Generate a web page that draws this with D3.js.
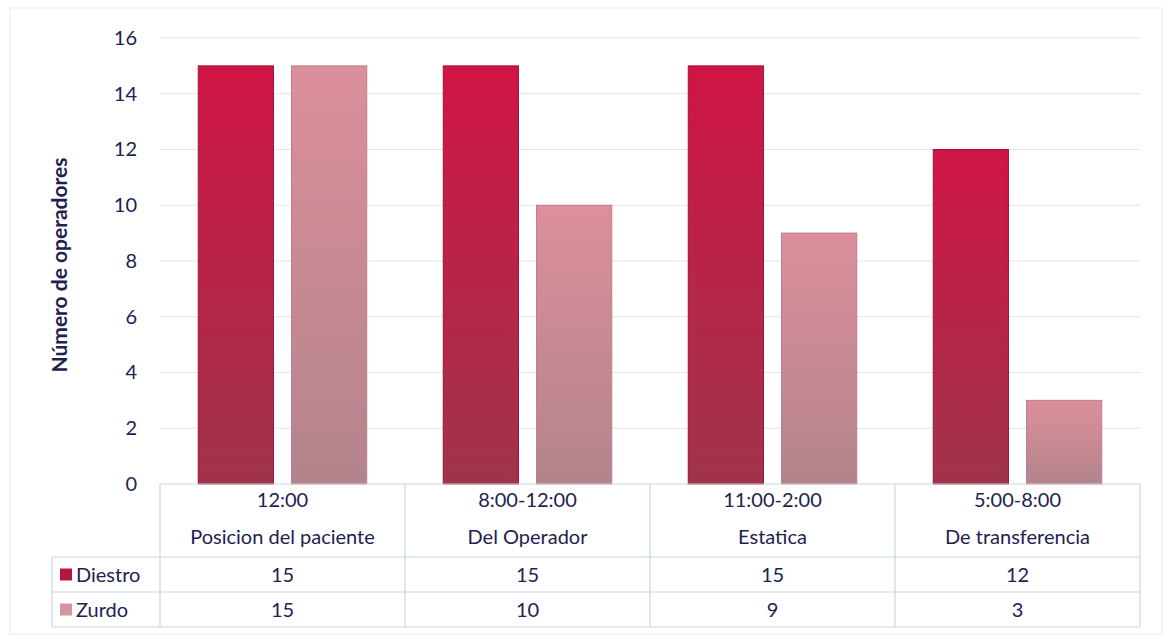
<!DOCTYPE html>
<html>
<head>
<meta charset="utf-8">
<script src="https://d3js.org/d3.v7.min.js"></script>
<style>
  body { margin: 0; background: #fff; }
  text { font-family: Lato, "Open Sans", sans-serif; fill: #1e2250; }
</style>
</head>
<body>
<div id="chart"></div>
<script>
// data
var categories = ["12:00|Posicion del paciente", "8:00-12:00|Del Operador", "11:00-2:00|Estatica", "5:00-8:00|De transferencia"];
var seriesNames = ["Diestro", "Zurdo"];
var diestro = [15, 15, 15, 12];
var zurdo = [15, 10, 9, 3];
var yTicks = [0, 2, 4, 6, 8, 10, 12, 14, 16];

var width = 1170, height = 639;
var plotLeft = 160, plotRight = 1140, plotTop = 38, plotBottom = 484;
var rowH = 35;
var fs = "20px";

var svg = d3.select("#chart").append("svg")
    .attr("width", width)
    .attr("height", height);

// gradients for the bars
var defs = svg.append("defs");
function grad(id, c1, c2) {
  var g = defs.append("linearGradient").attr("id", id)
      .attr("x1", 0).attr("y1", 0).attr("x2", 0).attr("y2", 1);
  g.append("stop").attr("offset", "0%").attr("stop-color", c1);
  g.append("stop").attr("offset", "100%").attr("stop-color", c2);
}
grad("gD", "#cf1545", "#a03449");
grad("gZ", "#dc8f9c", "#b3848c");
var fills = ["url(#gD)", "url(#gZ)"];
var legendCol = ["#b5163f", "#d6949f"];
var edgeCol = ["#a01035", "#c07c88"];

var x = d3.scaleBand().domain(categories).range([plotLeft, plotRight]);
var x1 = d3.scaleBand().domain(seriesNames).range([0, x.bandwidth()]).paddingInner(0.194).paddingOuter(0.41);
var y = d3.scaleLinear().domain([0, 16]).range([plotBottom, plotTop]);

// faint frame
svg.append("rect").attr("x", 10).attr("y", 8).attr("width", 1152).attr("height", 626)
    .attr("fill", "none").attr("stroke", "#ececec");

// gridlines
svg.append("g").selectAll("line").data(yTicks.slice(1)).enter().append("line")
    .attr("x1", plotLeft).attr("x2", plotRight)
    .attr("y1", function(d) { return y(d); }).attr("y2", function(d) { return y(d); })
    .attr("stroke", "#e3e5ea").attr("stroke-width", 1);

// y axis labels
var yAxis = d3.axisLeft(y).tickValues(yTicks).tickSize(0).tickPadding(0);
var ya = svg.append("g").attr("transform", "translate(137,0)").call(yAxis);
ya.select(".domain").remove();
ya.selectAll("text").style("font-size", fs).style("font-family", "Lato, sans-serif")
    .attr("fill", "#1e2250");

svg.append("text")
    .attr("transform", "translate(67," + ((plotTop + plotBottom) / 2 + 4) + ") rotate(-90)")
    .attr("text-anchor", "middle")
    .style("font-size", "21px").style("font-weight", "bold")
    .text("Número de operadores");

// bars
var allVals = [diestro, zurdo];
seriesNames.forEach(function(s, si) {
  svg.append("g").selectAll("rect").data(allVals[si]).enter().append("rect")
      .attr("x", function(d, i) { return x(categories[i]) + x1(s); })
      .attr("width", x1.bandwidth())
      .attr("y", function(d) { return y(d); })
      .attr("height", function(d) { return plotBottom - y(d); })
      .attr("fill", fills[si])
      .attr("stroke", edgeCol[si]).attr("stroke-width", 1);
});

// data table
var tCol = "#c9d5e4";
var headBottom = plotBottom + 73;
var tableBottom = headBottom + rowH * 2;
var tg = svg.append("g").attr("stroke", tCol).attr("stroke-width", 1.2);
// horizontal lines
tg.append("line").attr("x1", plotLeft).attr("x2", plotRight).attr("y1", plotBottom).attr("y2", plotBottom);
[headBottom, headBottom + rowH, tableBottom].forEach(function(yy) {
  tg.append("line").attr("x1", 52).attr("x2", plotRight).attr("y1", yy).attr("y2", yy);
});
// vertical lines
categories.forEach(function(c) {
  tg.append("line").attr("x1", x(c)).attr("x2", x(c)).attr("y1", plotBottom).attr("y2", tableBottom);
});
tg.append("line").attr("x1", plotRight).attr("x2", plotRight).attr("y1", plotBottom).attr("y2", tableBottom);
tg.append("line").attr("x1", 52).attr("x2", 52).attr("y1", headBottom).attr("y2", tableBottom);

// header labels
categories.forEach(function(c) {
  var parts = c.split("|");
  var cx = x(c) + x.bandwidth() / 2;
  svg.append("text").attr("x", cx).attr("y", plotBottom + 23).attr("text-anchor", "middle")
      .style("font-size", fs).text(parts[0]);
  svg.append("text").attr("x", cx).attr("y", plotBottom + 60).attr("text-anchor", "middle")
      .style("font-size", fs).text(parts[1]);
});

// series rows
seriesNames.forEach(function(s, si) {
  var ry = headBottom + rowH * si + rowH / 2;
  svg.append("rect").attr("x", 60).attr("y", ry - 6).attr("width", 12).attr("height", 12)
      .attr("fill", legendCol[si]);
  svg.append("text").attr("x", 76).attr("y", ry + 7).style("font-size", fs).text(s);
  allVals[si].forEach(function(v, i) {
    svg.append("text").attr("x", x(categories[i]) + x.bandwidth() / 2).attr("y", ry + 7)
        .attr("text-anchor", "middle").style("font-size", fs).text(v);
  });
});
</script>
</body>
</html>
